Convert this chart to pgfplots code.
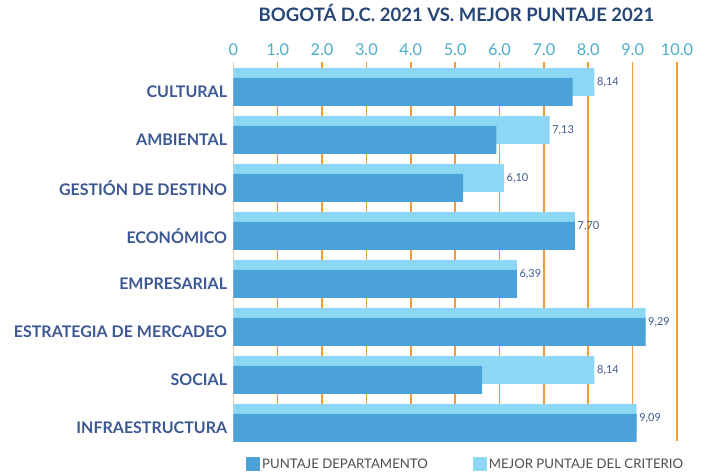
\documentclass[border=0pt]{standalone}
\usepackage{fontspec}
\setmainfont{Lato}
\usepackage{pgfplots}
\pgfplotsset{compat=1.18}
\definecolor{darkbar}{HTML}{4AA2D9}
\definecolor{lightbar}{HTML}{8DD7F5}
\definecolor{gridorange}{HTML}{F39A37}
\definecolor{gridpeach}{HTML}{F7C9A0}
\definecolor{ticklab}{HTML}{4DADCB}
\definecolor{titlecol}{HTML}{264676}
\definecolor{catcol}{HTML}{3C5893}
\definecolor{valcol}{HTML}{3E5A8A}
\definecolor{leggray}{HTML}{4D4D4D}
\begin{document}
\begin{tikzpicture}[x=1bp,y=1bp]
\path[use as bounding box] (0,0) rectangle (709,476);
\node[anchor=base, text=titlecol, font=\fontsize{18.5bp}{22bp}\selectfont\bfseries] at (456.5,454) {BOGOTÁ D.C. 2021 VS. MEJOR PUNTAJE 2021};
\begin{axis}[
  at={(233.3bp,35bp)}, anchor=south west,
  scale only axis, width=443.7bp, height=379bp,
  xbar, bar width=28bp,
  xmin=0, xmax=10, ymin=-0.375, ymax=7.5208,
  clip=false,
  axis line style={draw=none},
  xtick={1,2,3,4,5,6,7,8,9,10},
  xticklabels={1.0,2.0,3.0,4.0,5.0,6.0,7.0,8.0,9.0,10.0},
  extra x ticks={0}, extra x tick labels={0},
  extra x tick style={grid style={draw=gridpeach, line width=1bp}},
  xticklabel pos=top,
  xmajorgrids,
  grid style={draw=gridorange, line width=1.6bp},
  major tick length=0pt,
  /pgf/number format/assume math mode=true,
  xticklabel style={anchor=base, inner sep=0pt, yshift=6.3bp, text=ticklab, font=\fontsize{16.3bp}{19bp}\selectfont},
  ytick={0,1,2,3,4,5,6,7},
  yticklabels={INFRAESTRUCTURA, SOCIAL, ESTRATEGIA DE MERCADEO, EMPRESARIAL, ECONÓMICO, GESTIÓN DE DESTINO, AMBIENTAL, CULTURAL},
  yticklabel style={anchor=east, inner sep=0pt, xshift=-6bp, yshift=-5bp, text=catcol, font=\fontsize{16bp}{19bp}\selectfont\bfseries},
  legend style={at={(0.0286,-0.0422)}, anchor=north west, draw=none, fill=none, inner sep=0pt,
    font=\fontsize{13.2bp}{15bp}\selectfont, text=leggray,
    /tikz/every even column/.append style={column sep=43bp}},
  legend columns=2, reverse legend,
  legend image code/.code={\fill[#1] (0bp,-6.5bp) rectangle (14bp,7.5bp);},
]
\addplot[fill=lightbar, draw=none, bar shift=5bp,
  point meta=x,
  nodes near coords={\pgfmathprintnumber[fixed,fixed zerofill,precision=2,use comma]{\pgfplotspointmeta}},
  every node near coord/.append style={anchor=west, inner sep=0pt, xshift=2.5bp, text=valcol, font=\fontsize{11bp}{13bp}\selectfont}
] coordinates {
  (8.14,7) (7.13,6) (6.10,5) (7.70,4) (6.39,3) (9.29,2) (8.14,1) (9.09,0)
};
\addlegendentry{MEJOR PUNTAJE DEL CRITERIO}
\addplot[fill=darkbar, draw=none, bar shift=-5bp] coordinates {
  (7.65,7) (5.93,6) (5.18,5) (7.70,4) (6.39,3) (9.29,2) (5.61,1) (9.09,0)
};
\addlegendentry{PUNTAJE DEPARTAMENTO}
\end{axis}
\end{tikzpicture}
\end{document}
